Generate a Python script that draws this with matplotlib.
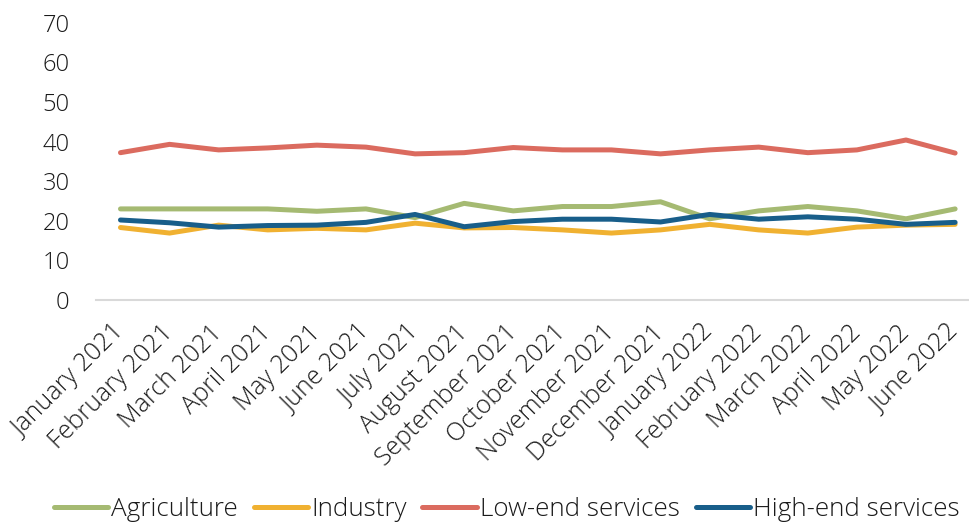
import matplotlib.pyplot as plt

months = ['January 2021', 'February 2021', 'March 2021', 'April 2021', 'May 2021',
          'June 2021', 'July 2021', 'August 2021', 'September 2021', 'October 2021',
          'November 2021', 'December 2021', 'January 2022', 'February 2022',
          'March 2022', 'April 2022', 'May 2022', 'June 2022']

agriculture = [23.0, 23.0, 23.0, 23.0, 22.4, 23.0, 20.8, 24.4, 22.5, 23.6,
               23.6, 24.8, 20.5, 22.5, 23.6, 22.5, 20.5, 23.0]
industry = [18.3, 16.9, 18.9, 17.7, 18.1, 17.7, 19.4, 18.2, 18.3, 17.7,
            16.9, 17.7, 19.1, 17.7, 16.9, 18.4, 18.9, 19.1]
low_end = [37.2, 39.3, 37.9, 38.4, 39.1, 38.6, 36.9, 37.2, 38.5, 37.9,
           37.9, 36.9, 37.9, 38.6, 37.2, 37.9, 40.4, 37.1]
high_end = [20.2, 19.5, 18.4, 18.8, 18.9, 19.6, 21.6, 18.5, 19.8, 20.4,
            20.4, 19.7, 21.6, 20.4, 21.0, 20.4, 19.1, 19.6]

plt.rcParams['font.family'] = ['Open Sans', 'DejaVu Sans']
plt.rcParams['font.weight'] = 'light'

fig = plt.figure(figsize=(9.69, 5.25), dpi=100)
ax = fig.add_axes([0.099, 0.4286, 0.912, 0.528])

x = range(len(months))
lw = 3.6
ax.plot(x, agriculture, color='#A5BA72', linewidth=lw, label='Agriculture', solid_capstyle='round')
ax.plot(x, industry, color='#F0B131', linewidth=lw, label='Industry', solid_capstyle='round')
ax.plot(x, low_end, color='#DB6B5F', linewidth=lw, label='Low-end services', solid_capstyle='round')
ax.plot(x, high_end, color='#185E8A', linewidth=lw, label='High-end services', solid_capstyle='round')

ax.set_xlim(-0.5, len(months) - 0.5)
ax.set_ylim(0, 70)
ax.set_yticks(range(0, 71, 10))
ax.set_xticks(list(x))
ax.set_xticklabels(months, rotation=45, ha='right', va='center',
                   rotation_mode='anchor', fontsize=18)

for s in ['top', 'right', 'left']:
    ax.spines[s].set_visible(False)
ax.spines['bottom'].set_color('#D9D9D9')
ax.spines['bottom'].set_linewidth(1.5)
ax.tick_params(axis='both', length=0, colors='#1a1a1a')
ax.tick_params(axis='y', pad=19, labelsize=17)
ax.tick_params(axis='x', pad=21)

fig.legend(loc='center', bbox_to_anchor=(0.523, 0.029), ncol=4, frameon=False,
           fontsize=18.7, handlelength=2.1, handletextpad=0.12, columnspacing=0.6,
           labelcolor='#1a1a1a')

fig.savefig('out.png', dpi=100)
